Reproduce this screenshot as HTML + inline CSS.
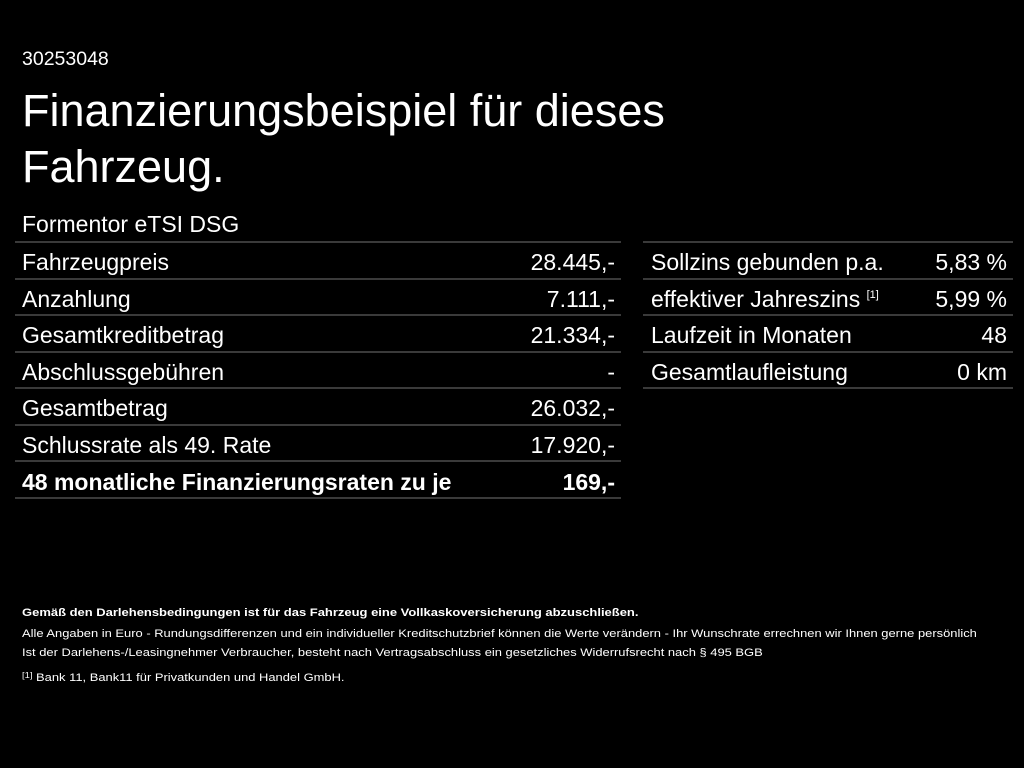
<!DOCTYPE html>
<html><head><meta charset="utf-8"><style>
*{margin:0;padding:0;box-sizing:border-box}
body{width:1024px;height:768px;background:#000;color:#fff;font-family:"Liberation Sans",sans-serif;position:relative;overflow:hidden}
.a{position:absolute;white-space:nowrap}
.row{position:absolute;height:36.5px;border-bottom:2px solid #3a3a3a;font-size:23px;line-height:38px;white-space:nowrap}
.row span{position:absolute;right:6px;top:0}
sup.s{font-size:11px;vertical-align:0;position:relative;top:-9px;line-height:0}
.f{position:absolute;left:22px;font-size:11px;transform-origin:left;white-space:nowrap;transform:scaleX(1.175)}
</style></head><body>
<div class="a" style="left:22px;top:48px;font-size:19.5px">30253048</div>
<div class="a" style="left:22px;top:83px;font-size:45px;line-height:56px">Finanzierungsbeispiel für dieses<br>Fahrzeug.</div>
<div class="a" style="left:22px;top:211px;font-size:23px">Formentor eTSI DSG</div>
<div style="position:absolute;left:15px;top:241px;width:606px;border-top:2px solid #3a3a3a"></div>
<div style="position:absolute;left:643px;top:241px;width:370px;border-top:2px solid #3a3a3a"></div>
<div style="position:absolute;left:15px;top:243px;width:606px">
<div class="row" style="top:0;width:606px;padding-left:7px">Fahrzeugpreis<span>28.445,-</span></div>
<div class="row" style="top:36.5px;width:606px;padding-left:7px">Anzahlung<span>7.111,-</span></div>
<div class="row" style="top:73px;width:606px;padding-left:7px">Gesamtkreditbetrag<span>21.334,-</span></div>
<div class="row" style="top:109.5px;width:606px;padding-left:7px">Abschlussgebühren<span>-</span></div>
<div class="row" style="top:146px;width:606px;padding-left:7px">Gesamtbetrag<span>26.032,-</span></div>
<div class="row" style="top:182.5px;width:606px;padding-left:7px">Schlussrate als 49. Rate<span>17.920,-</span></div>
<div class="row" style="top:219px;width:606px;padding-left:7px;font-weight:bold;font-size:23px;line-height:40px">48 monatliche Finanzierungsraten zu je<span>169,-</span></div>
</div>
<div style="position:absolute;left:643px;top:243px;width:370px">
<div class="row" style="top:0;width:370px;padding-left:8px">Sollzins gebunden p.a.<span>5,83 %</span></div>
<div class="row" style="top:36.5px;width:370px;padding-left:8px">effektiver Jahreszins <sup class="s">[1]</sup><span>5,99 %</span></div>
<div class="row" style="top:73px;width:370px;padding-left:8px">Laufzeit in Monaten<span>48</span></div>
<div class="row" style="top:109.5px;width:370px;padding-left:8px">Gesamtlaufleistung<span>0 km</span></div>
</div>
<div class="f" style="top:607px;font-weight:bold;transform:scaleX(1.18)">Gemäß den Darlehensbedingungen ist für das Fahrzeug eine Vollkaskoversicherung abzuschließen.</div>
<div class="f" style="top:628px">Alle Angaben in Euro - Rundungsdifferenzen und ein individueller Kreditschutzbrief können die Werte verändern - Ihr Wunschrate errechnen wir Ihnen gerne persönlich</div>
<div class="f" style="top:647px">Ist der Darlehens-/Leasingnehmer Verbraucher, besteht nach Vertragsabschluss ein gesetzliches Widerrufsrecht nach § 495 BGB</div>
<div class="f" style="top:672px"><span style="font-size:8px;position:relative;top:-3px">[1]</span> Bank 11, Bank11 für Privatkunden und Handel GmbH.</div>
</body></html>
